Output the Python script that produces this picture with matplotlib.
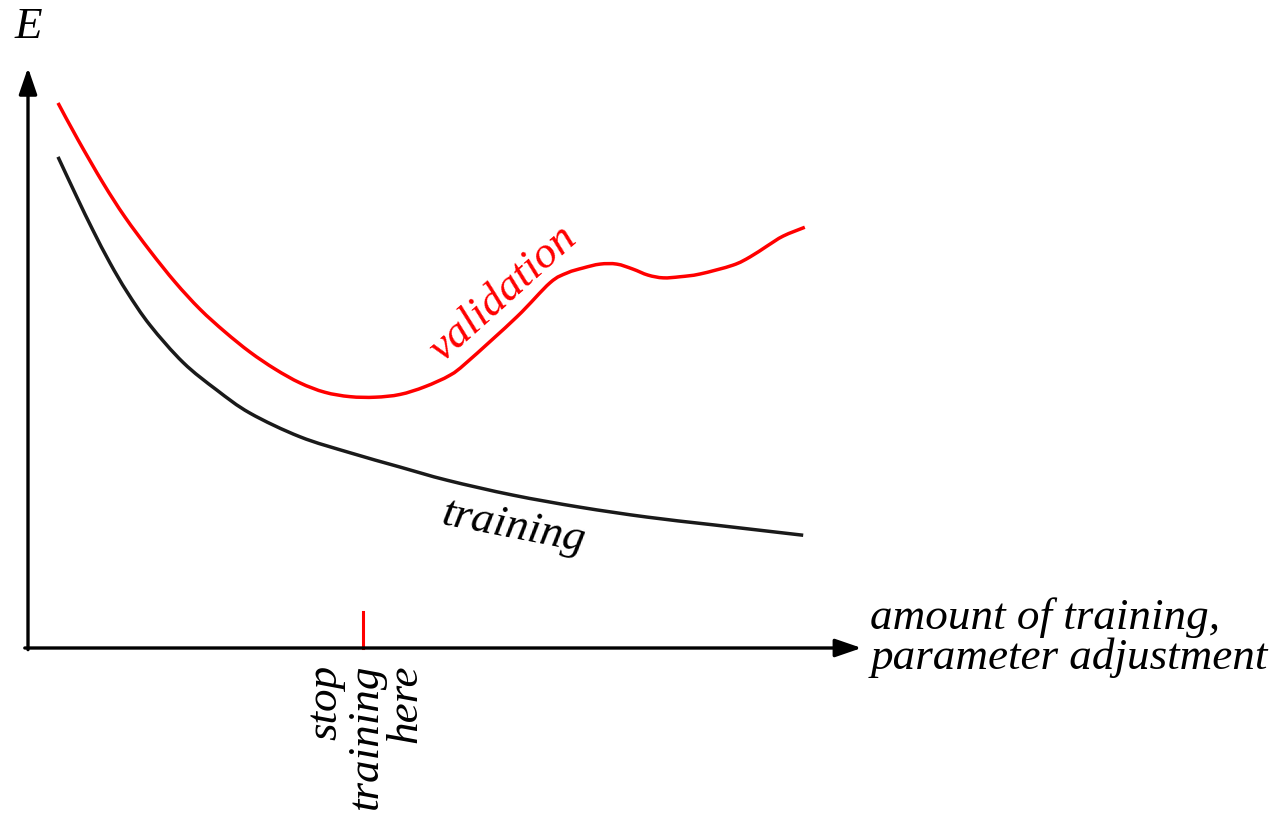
import matplotlib
matplotlib.use("Agg")
import matplotlib.pyplot as plt
from matplotlib.path import Path
from matplotlib.patches import PathPatch

# Data (amount of training vs error E)
val_x = [3.75, 6.25, 9.4, 12.1, 15.25, 18.4, 21.5, 24.6, 27.75, 30.9, 34.0, 37.1,
         40.25, 43.4, 46.5, 49.6, 52.75, 54.9, 61.1, 65.25, 67.4, 69.4, 71.5, 73.6,
         75.6, 77.5, 79.4, 81.5, 84.0, 88.1, 90.25, 92.4, 94.4, 97.1]
val_y = [99.1, 92.4, 84.5, 78.4, 72.2, 66.5, 61.6, 57.5, 53.8, 50.7, 48.2, 46.5,
         45.7, 45.6, 46.1, 47.5, 49.6, 52.0, 60.2, 66.4, 68.2, 69.1, 69.8, 69.8,
         68.9, 67.8, 67.3, 67.5, 68.0, 69.6, 71.1, 73.1, 74.9, 76.5]
train_x = [3.75, 6.1, 8.1, 10.25, 12.4, 15.25, 19.4, 23.6, 27.75, 34.0, 40.25,
           46.5, 52.4, 60.6, 69.0, 77.4, 85.6, 96.9]
train_y = [89.3, 82.0, 76.0, 70.0, 64.7, 58.7, 51.9, 46.9, 42.7, 38.4, 35.5,
           32.9, 30.5, 27.8, 25.6, 23.8, 22.4, 20.5]
stop_x = 41.9
stop_tick_height = 6.5

serif = ["Liberation Serif", "DejaVu Serif"]
FS = 32.5


def smooth_path(xs, ys):
    """Catmull-Rom spline through the data points, as cubic Bezier segments."""
    pts = list(zip(xs, ys))
    verts = [pts[0]]
    codes = [Path.MOVETO]
    n = len(pts)
    for i in range(n - 1):
        p0 = pts[i - 1] if i > 0 else pts[i]
        p1 = pts[i]
        p2 = pts[i + 1]
        p3 = pts[i + 2] if i + 2 < n else pts[i + 1]
        c1 = (p1[0] + (p2[0] - p0[0]) / 6, p1[1] + (p2[1] - p0[1]) / 6)
        c2 = (p2[0] - (p3[0] - p1[0]) / 6, p2[1] - (p3[1] - p1[1]) / 6)
        verts += [c1, c2, p2]
        codes += [Path.CURVE4] * 3
    return Path(verts, codes)


fig = plt.figure(figsize=(12.81, 8.13), dpi=100)
ax = fig.add_axes([28 / 1281, (813 - 648) / 813, 800 / 1281, 550 / 813])
ax.set_xlim(0, 100)
ax.set_ylim(0, 100)
ax.axis("off")

red = "#ff0000"
ax.add_patch(PathPatch(smooth_path(val_x, val_y), facecolor="none", edgecolor=red,
                       lw=2.5, capstyle="butt", clip_on=False))
ax.add_patch(PathPatch(smooth_path(train_x, train_y), facecolor="none",
                       edgecolor="#1a1a1a", lw=2.5, capstyle="butt", clip_on=False))

# axes arrows
arrowprops = dict(arrowstyle="-|>,head_length=1.6,head_width=0.55", color="black",
                  lw=2.4, shrinkA=0, shrinkB=0)
ax.annotate("", xy=(104.2, 0), xytext=(-0.4, 0), arrowprops=arrowprops,
            annotation_clip=False)
ax.annotate("", xy=(0, 105.5), xytext=(0, -0.3), arrowprops=arrowprops,
            annotation_clip=False)

# stop marker
ax.plot([stop_x, stop_x], [0, stop_tick_height], color=red, lw=2.2, clip_on=False)

# texts
ax.text(0.1, 113.0, "E", family=serif, style="italic", fontsize=FS,
        ha="center", va="center", clip_on=False)
ax.text(105.3, 1.9, "amount of training,\nparameter adjustment", family=serif,
        style="italic", fontsize=FS, ha="left", va="center", linespacing=0.97,
        multialignment="left", clip_on=False)
ax.text(stop_x + 0.3, -3.0, "stop\ntraining\nhere", family=serif, style="italic",
        fontsize=FS, rotation=90, ha="center", va="top", linespacing=1.0,
        multialignment="right", clip_on=False)
ax.text(60.6, 22.0, "training", family=serif, style="italic", fontsize=FS,
        rotation=-11, ha="center", va="center", rotation_mode="anchor")
ax.text(59.4, 64.5, "validation", family=serif, style="italic", fontsize=FS,
        color=red, rotation=42, ha="center", va="center", rotation_mode="anchor")

fig.savefig("out.png", dpi=100, facecolor="white")
